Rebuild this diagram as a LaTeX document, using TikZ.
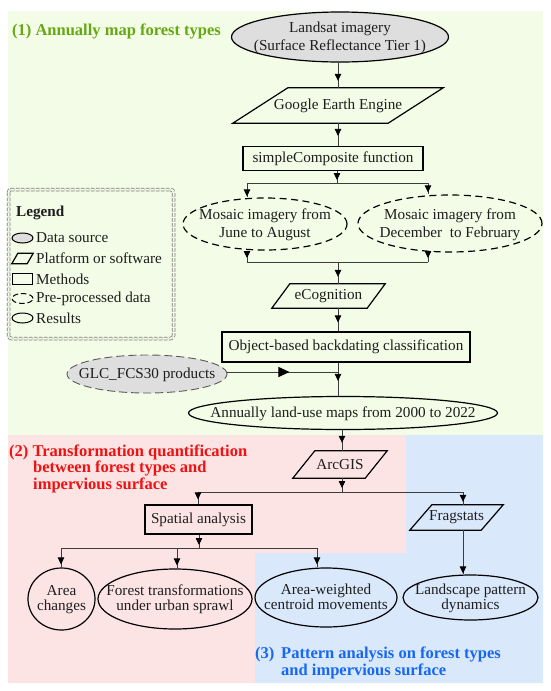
\documentclass[tikz,border=0pt]{standalone}
\usepackage{fontspec}
\setmainfont{Liberation Serif}
\usetikzlibrary{shapes.geometric,arrows.meta,decorations.markings}
\definecolor{bggreen}{RGB}{243,252,230}
\definecolor{bgpink}{RGB}{253,228,228}
\definecolor{bgblue}{RGB}{218,232,252}
\definecolor{titlegreen}{RGB}{102,168,18}
\definecolor{titlered}{RGB}{238,18,18}
\definecolor{titleblue}{RGB}{22,104,240}
\definecolor{datagray}{RGB}{222,222,222}
\definecolor{connc}{RGB}{60,60,60}
\definecolor{legendc}{RGB}{120,120,120}
\definecolor{textc}{RGB}{30,30,30}
\newcommand\ctext[1]{\makebox[0pt]{\smash{\raisebox{-0.3em}{\begin{tabular}{@{}c@{}}#1\end{tabular}}}}}
\newcommand\paranode[6]{%
  \node[txt, minimum width=#3, minimum height=#4, inner sep=0pt] (#1) at (#2) {#6};
  \draw[shapeline] ([xshift=#5]#1.north west) -- (#1.north east) -- ([xshift=-#5]#1.south east) -- (#1.south west) -- cycle;}
\tikzset{
  shapeline/.style={draw=black, line width=1.2pt},
  txt/.style={font=\fontsize{15.2pt}{18pt}\selectfont, text=textc},
  tighttxt/.style={font=\fontsize{15.2pt}{14.5pt}\selectfont, text=textc},
  ell/.style={ellipse, shapeline, txt, inner sep=0pt},
  dataell/.style={ell, fill=datagray},
  dashell/.style={ell, dash pattern=on 7pt off 4.5pt},
  box/.style={rectangle, shapeline, txt, inner sep=0pt},
  conn/.style={draw=connc, line width=0.75pt},
  arrat/.style={postaction={decorate, decoration={markings, mark=at position #1 with {\arrow{Triangle[length=7pt,width=6.5pt,color=black]}}}}},
  bigarr/.style={postaction={decorate, decoration={markings, mark=at position #1 with {\arrow{Triangle[length=11pt,width=10pt,color=black]}}}}},
  ttl/.style={font=\fontsize{16.5pt}{16.5pt}\selectfont\bfseries, anchor=base west, inner sep=0pt},
  legtxt/.style={txt, anchor=west, inner sep=0pt},
  legline/.style={draw=legendc, line width=0.75pt, dash pattern=on 3.5pt off 1.5pt, rounded corners=3pt, double=bggreen, double distance=2pt}
}
\begin{document}
\begin{tikzpicture}[x=1pt,y=-1pt]
\useasboundingbox (0,0) rectangle (550,691);
% backgrounds
\fill[bggreen] (8,11) rectangle (543,435);
\fill[bgpink] (8,435) -- (406,435) -- (406,553) -- (255,553) -- (255,683) -- (8,683) -- cycle;
\fill[bgblue] (406,435) -- (543,435) -- (543,683) -- (255,683) -- (255,553) -- (406,553) -- cycle;
% titles
\node[ttl, text=titlegreen] (t1) at (12,35) {(1) Annually map forest types};
\node[ttl, text=titlered] (t2a) at (9,456) {(2) Transformation quantification};
\node[ttl, text=titlered] (t2b) at (33,472.5) {between forest types and};
\node[ttl, text=titlered] (t2c) at (33,489) {impervious surface};
\node[ttl, text=titleblue] (t3a) at (255,658) {(3)};
\node[ttl, text=titleblue] (t3b) at (281,658) {Pattern analysis on forest types};
\node[ttl, text=titleblue] (t3c) at (281,675) {and impervious surface};
% legend
\draw[legline] (8.5,189.5) rectangle (173.5,338.5);
\node[txt, font=\fontsize{15.2pt}{18pt}\selectfont\bfseries, anchor=west, inner sep=0pt] (legtitle) at (16,213) {Legend};
\node[dataell, minimum width=21pt, minimum height=10pt, line width=1pt] (lg1) at (22.5,238) {};
\node[legtxt] (lgt1) at (36,238) {Data source};
\paranode{lg2}{22.5,258.5}{21pt}{10pt}{6pt}{}
\node[legtxt] (lgt2) at (36,258.5) {Platform or software};
\node[box, minimum width=20pt, minimum height=11pt, line width=1pt] (lg3) at (22.5,279) {};
\node[legtxt] (lgt3) at (36,279) {Methods};
\node[ell, minimum width=21pt, minimum height=10pt, line width=1pt, dash pattern=on 5.5pt off 3pt] (lg4) at (22.5,298.5) {};
\node[legtxt] (lgt4) at (36,298.5) {Pre-processed data};
\node[ell, minimum width=21pt, minimum height=10pt, line width=1pt] (lg5) at (22.5,318) {};
\node[legtxt] (lgt5) at (36,318) {Results};
% main nodes
\node[dataell, minimum width=217pt, minimum height=50pt] (landsat) at (340,37) {\ctext{Landsat imagery\\(Surface Reflectance Tier 1)}};
\paranode{gee}{338,105.5}{210pt}{35pt}{55pt}{Google Earth Engine}
\node[box, minimum width=180pt, minimum height=24pt] (simple) at (333,158.5) {simpleComposite function};
\node[dashell, minimum width=164pt, minimum height=52pt] (m1) at (265,224) {\ctext{Mosaic imagery from\\June to August}};
\node[dashell, minimum width=184pt, minimum height=57pt] (m2) at (450,223.5) {\ctext{Mosaic imagery from\\December\ \ to February}};
\paranode{ecog}{328.5,296}{113pt}{24pt}{18pt}{eCognition}
\node[box, minimum width=248pt, minimum height=30pt] (obj) at (346,347) {Object-based backdating classification};
\node[ell, fill=datagray, draw=black!65, line width=0.9pt, dash pattern=on 8pt off 4pt, minimum width=160pt, minimum height=38pt] (glc) at (147,374) {\ctext{GLC\_FCS30 products}};
\node[ell, minimum width=309pt, minimum height=33pt] (annual) at (343,413) {\ctext{Annually land-use maps from 2000 to 2022}};
\paranode{arcgis}{340,464.5}{94pt}{27pt}{22pt}{ArcGIS}
\node[box, minimum width=107pt, minimum height=29pt] (spatial) at (198.5,519.5) {Spatial analysis};
\paranode{frag}{456.5,517.5}{93pt}{25pt}{22pt}{Fragstats}
\node[ell, tighttxt, minimum width=67pt, minimum height=62pt] (area) at (61.5,599) {\ctext{Area\\changes}};
\node[ell, tighttxt, minimum width=154pt, minimum height=60pt] (forest) at (175,599) {\ctext{Forest transformations\\under urban sprawl}};
\node[ell, tighttxt, minimum width=142pt, minimum height=59pt] (centroid) at (326,597.5) {\ctext{Area-weighted\\centroid movements}};
\node[ell, tighttxt, minimum width=135pt, minimum height=45pt] (landscape) at (470.5,597.5) {\ctext{Landscape pattern\\dynamics}};
% junctions
\coordinate (j1) at (337,183);
\coordinate (j1l) at (247,183);
\coordinate (j1r) at (428,183);
\coordinate (j2) at (338,262);
\coordinate (j2l) at (247,262);
\coordinate (j2r) at (428,262);
\coordinate (j3) at (338,372);
\coordinate (j4) at (342,492);
\coordinate (j4l) at (198,492);
\coordinate (j4r) at (463,492);
\coordinate (j5) at (199,548);
\coordinate (j5l) at (61,548);
\coordinate (j5m) at (177,548);
\coordinate (j5r) at (317,548);
% connectors
\draw[conn, arrat=-7pt] (landsat.south -| gee.north) -- (gee.north);
\draw[conn, arrat=-10pt] (gee.south) -- (gee.south |- simple.north);
\draw[conn, arrat=-3pt] (simple.south -| j1) -- (j1);
\draw[conn] (j1l) -- (j1r);
\draw[conn, arrat=-1pt] (j1l) -- (j1l |- m1.north);
\draw[conn, arrat=-2pt] (j1r) -- (j1r |- m2.north);
\draw[conn, arrat=-4pt] (j2l |- m1.south) -- (j2l);
\draw[conn, arrat=-4pt] (j2r |- m2.south) -- (j2r);
\draw[conn] (j2l) -- (j2r);
\draw[conn, arrat=-7pt] (j2) -- (j2 |- ecog.north);
\draw[conn, arrat=-9pt] (j2 |- ecog.south) -- (j2 |- obj.north);
\draw[conn, arrat=-15pt] (j2 |- obj.south) -- (j2 |- annual.north);
\draw[conn, bigarr=62pt] (glc.east |- j3) -- (j3);
\draw[conn, arrat=-8pt] (j4 |- annual.south) -- (j4 |- arcgis.north);
\draw[conn, arrat=-4pt] (j4 |- arcgis.south) -- (j4);
\draw[conn] (j4l) -- (j4r);
\draw[conn, arrat=-5pt] (j4l) -- (j4l |- spatial.north);
\draw[conn, arrat=-3pt] (j4r) -- (j4r |- frag.north);
\draw[conn, arrat=-3pt] (j5 |- spatial.south) -- (j5);
\draw[conn] (j5l) -- (j5r);
\draw[conn, arrat=-3pt] (j5l) -- (j5l |- area.north);
\draw[conn, arrat=-3pt] (j5m) -- (j5m |- forest.north);
\draw[conn, arrat=-3pt] (j5r) -- (j5r |- centroid.north);
\draw[conn, arrat=-1pt] (j4r |- frag.south) -- (j4r |- landscape.north);
\end{tikzpicture}
\end{document}
